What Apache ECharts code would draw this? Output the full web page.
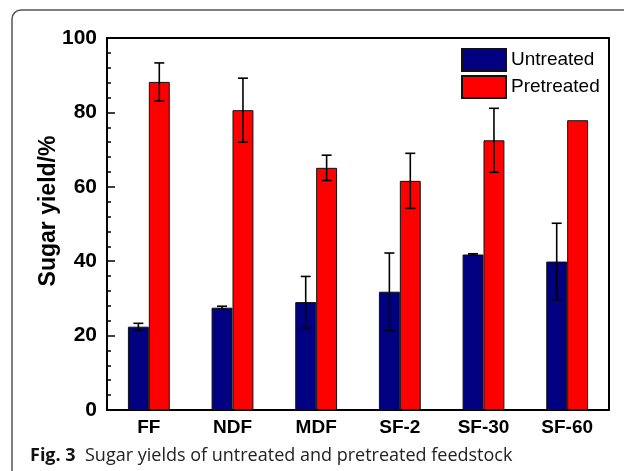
<!DOCTYPE html>
<html>
<head>
<meta charset="utf-8">
<script src="https://cdn.jsdelivr.net/npm/echarts@6/dist/echarts.min.js"></script>
<style>
  html, body { margin: 0; padding: 0; background: #fff; }
  #main { width: 624px; height: 471px; }
</style>
</head>
<body>
<div id="main"></div>
<script>
// 数据
var categories = ['FF', 'NDF', 'MDF', 'SF-2', 'SF-30', 'SF-60'];
var untreated = [22.4, 27.5, 29.0, 31.8, 41.8, 39.9];
var untreatedErr = [0.9, 0.4, 6.9, 10.4, 0.2, 10.3];
var pretreated = [88.2, 80.6, 65.1, 61.6, 72.5, 77.9];
var pretreatedErr = [5.1, 8.6, 3.4, 7.4, 8.6, 0];

var font = "'Liberation Sans', Arial, sans-serif";

// 误差线数据 [index, value, err]
function errData(vals, errs) {
    return vals.map(function (v, i) { return [i, v, errs[i]]; });
}

// 误差线, sign = -1 左边的柱子, 1 右边的柱子
function errRender(sign) {
    return function (params, api) {
        var e = api.value(2);
        if (!e) return { type: 'group', children: [] };
        var i = api.value(0), v = api.value(1);
        var band = api.size([1, 0])[0];
        var off = band * 0.125 * sign;
        var top = api.coord([i, v + e]);
        var bot = api.coord([i, v - e]);
        var cx = top[0] + off;
        var st = { stroke: '#000', lineWidth: 1.6 };
        return {
            type: 'group',
            children: [
                { type: 'line', shape: { x1: cx, y1: top[1], x2: cx, y2: bot[1] }, style: st },
                { type: 'line', shape: { x1: cx - 5, y1: top[1], x2: cx + 5, y2: top[1] }, style: st },
                { type: 'line', shape: { x1: cx - 5, y1: bot[1], x2: cx + 5, y2: bot[1] }, style: st }
            ]
        };
    };
}

var myChart = echarts.init(document.getElementById('main'));
var option = {
    animation: false,
    backgroundColor: '#fff',
    grid: {
        left: 107, right: 15, top: 38, bottom: 61,
        show: true, borderColor: '#000', borderWidth: 2
    },
    legend: {
        data: ['Untreated', 'Pretreated'],
        orient: 'vertical',
        left: 456, top: 43,
        icon: 'rect',
        itemWidth: 44, itemHeight: 22, itemGap: 3,
        textStyle: { fontFamily: font, fontSize: 19, color: '#000' }
    },
    xAxis: {
        type: 'category',
        data: categories,
        axisLine: { lineStyle: { color: '#000', width: 2 } },
        axisTick: { show: false },
        axisLabel: { fontFamily: font, fontSize: 19, fontWeight: 'bold', color: '#000', margin: 8 }
    },
    yAxis: {
        type: 'value',
        min: 0, max: 100, interval: 20,
        axisLine: { show: true, lineStyle: { color: '#000', width: 2 } },
        axisTick: { show: true, inside: true, length: 8, lineStyle: { color: '#000', width: 1.5 } },
        minorTick: { show: true, splitNumber: 5, length: 4, lineStyle: { color: '#000', width: 1.5 } },
        splitLine: { show: false },
        axisLabel: { fontFamily: font, fontSize: 21, fontWeight: 'bold', color: '#000', margin: 10 }
    },
    series: [
        {
            name: 'Untreated',
            type: 'bar',
            data: untreated,
            barWidth: '25%',
            barGap: '0%',
            itemStyle: { color: '#000080', borderColor: '#111', borderWidth: 1 }
        },
        {
            name: 'Pretreated',
            type: 'bar',
            data: pretreated,
            barWidth: '25%',
            barGap: '0%',
            itemStyle: { color: '#ff0000', borderColor: '#111', borderWidth: 1 }
        },
        {
            type: 'custom',
            data: errData(untreated, untreatedErr),
            renderItem: errRender(-1),
            z: 10,
            silent: true
        },
        {
            type: 'custom',
            data: errData(pretreated, pretreatedErr),
            renderItem: errRender(1),
            z: 10,
            silent: true
        }
    ],
    graphic: [
        {
            type: 'rect',
            shape: { x: 12, y: 10, width: 700, height: 540, r: 9 },
            style: { fill: 'none', stroke: '#555', lineWidth: 1.5 },
            z: -1
        },
        // y轴标题
        {
            type: 'text',
            x: 49, y: 211,
            rotation: Math.PI / 2,
            style: {
                text: 'Sugar yield/%',
                fontFamily: font, fontSize: 23, fontWeight: 'bold', fill: '#000',
                align: 'center', verticalAlign: 'middle'
            }
        },
        {
            type: 'text',
            left: 30, top: 447,
            style: {
                text: '{b|Fig. 3}  Sugar yields of untreated and pretreated feedstock',
                fontFamily: "'Open Sans', sans-serif",
                fontSize: 18,
                fill: '#222',
                rich: {
                    b: { fontFamily: "'Open Sans', sans-serif", fontSize: 18, fontWeight: 'bold', fill: '#111' }
                }
            }
        }
    ]
};
myChart.setOption(option);
</script>
</body>
</html>
